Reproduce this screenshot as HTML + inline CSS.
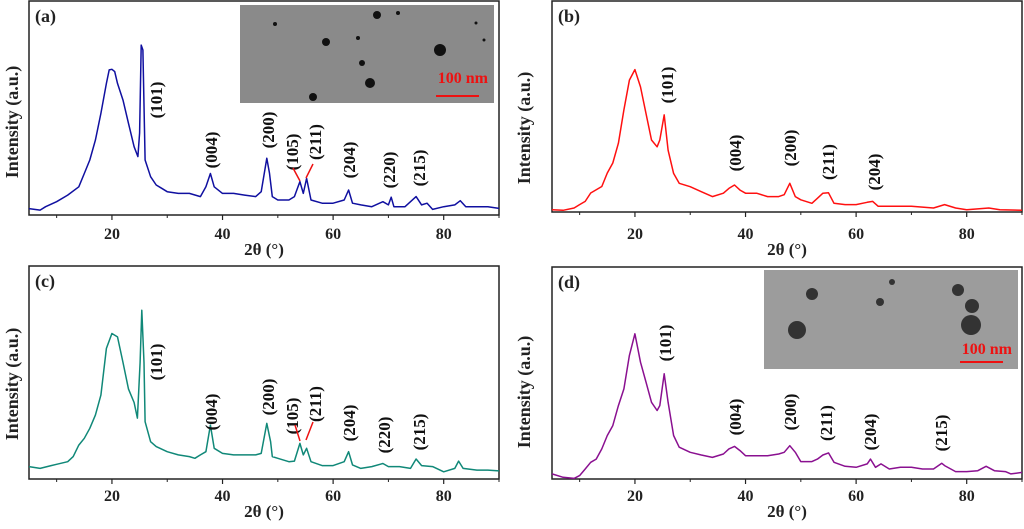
<!DOCTYPE html>
<html><head><meta charset="utf-8"><style>
body{margin:0;background:#fff;width:1024px;height:524px;overflow:hidden}
svg text{font-family:"Liberation Serif",serif;font-weight:bold}
</style></head><body>
<svg id="fig" width="1024" height="524" viewBox="0 0 1024 524" xmlns="http://www.w3.org/2000/svg"></svg>
<script>
const xTicks=[20,40,60,80];
const xMinor=[10,30,50,70,90];
// panel (a)
const aX=[5,7,8,10,12,14,15,16,17,18,19,19.5,20,20.5,21,22,23,24,24.7,25,25.3,25.6,26,27,28,29,30,32,34,36,37,37.8,38.5,40,42,44,46,47,48,48.5,49,50,52,53,54,54.6,55.2,56,58,60,62,62.8,63.5,65,67,69,70,70.5,71,73,75,76,77,78,80,82,83,84,86,88,90];
const aY=[3,2.3,3.9,6.2,9.3,13.2,19.4,25.7,35,47.5,61.5,67.8,68.1,67,61.5,53.7,42.8,31.9,27.3,38.3,79.4,77.1,25.7,17.9,14,12.5,10.9,10.1,10.1,8.6,13.2,19.4,13.2,10.1,10.1,9.3,8.6,10.9,26.5,19.5,8.6,7,7,8.6,15.6,10.1,17.1,7,5.5,5.5,7,11.7,5.5,4.7,3.9,6.2,4.7,8.3,3.9,3.9,8.6,4.7,5.5,2.6,3.9,4.7,6.7,3.9,3.9,3.9,3.1];
// panel (b)
const bX=[5,7,9,10,11,12,14,15,16,17,18,19,20,21,22,23,24,24.5,25.3,26,27,28,30,32,34,36,37,38,39,40,42,44,46,47,48,49,50,52,53,54,55,56,58,60,62,63,64,66,70,74,76,78,80,84,86,90];
const bY=[1.1,0.8,1.9,3.5,5,9,12.1,18.5,23.2,32.6,48.4,62.5,67.5,59.3,46.7,34.1,30.9,34.1,46,29.3,18.3,13.6,12,9.6,7.3,8.9,11.2,12.8,10.4,8.9,8.9,7.3,7.3,8.2,13.6,7.3,5.8,4.1,6.5,8.9,9.1,4.1,3.5,3.5,4.6,5,2.7,2.7,2.7,1.9,3.5,1.9,1.1,1.9,1.1,0.8];
// panel (c)
const cX=[5,7,9,10,12,13,14,15,16,17,18,19,20,21,22,23,24,24.6,25.1,25.4,25.8,26,27,28,30,32,34,35,36,37,37.8,38.5,40,42,44,46,47,48,48.7,49,50,52,53,54,54.6,55.2,56,58,60,62,62.8,63.5,65,67,69,70,72,74,75,76,78,80,82,82.7,83.5,86,88,90];
const cY=[5.8,5,6.3,6.9,8.1,10.5,15.9,19.1,23.8,30,39.4,61.3,68.3,66.7,54.7,42.2,35.9,28.6,54.7,79.2,54.7,26.9,17.5,15.2,12.8,11.3,10.5,9.7,11.3,12.8,25.3,14.4,12,11.3,11.3,11.3,12,26.1,17.5,10.5,9.7,8.1,8.4,16.7,11.3,14.4,8.1,6.3,6.3,8.1,12.8,6.6,5,5.8,7.3,5.8,5.8,5,9.4,6.3,5.8,3.4,5,8.4,5,4.2,4.2,3.8];
// panel (d)
const dX=[5,7,9,10,11,12,13,14,15,16,17,18,19,20,21,22,23,24,24.5,25.3,26,27,28,30,32,34,36,37,38,39,40,42,44,46,47,48,49,50,52,53,54,55,56,58,60,62,62.6,63.5,64.5,66,68,70,72,74,75.5,76,78,80,82,83.5,85,87,88,90];
const dY=[2.4,0.8,0.3,1.6,4.7,7.9,9.4,14.2,20.5,25.2,34.6,42.5,58.3,68.5,55.1,45.7,36.2,32.3,34.6,49.6,36.2,20.5,15,12.6,11.3,10.2,11.8,14.2,15.4,13.4,11.0,11.0,11.0,11.8,12.6,15.7,12.6,8.2,8.2,9.4,11.3,12.3,7.9,6,5.5,7.1,9.4,5.5,7.1,4.7,5.5,5.5,4.7,4.7,7.4,6.3,3.5,3.5,3.9,6,3.9,3.5,2.4,3.1];

const panels=[
 {id:'a',L:29,R:499,T:1,B:215,xs:aX,ys:aY,col:'#1010a0',tl:233,tt:249,yt:122,yx:12,
  labels:[['(101)',156,100],['(004)',211,150],['(200)',268,130],['(105)',292,152],['(211)',315,142],['(204)',349,160],['(220)',389,170],['(215)',419,168]],
  red:[[293,168,300,181],[313,164,306,178]],inset:[240,5,254,98]},
 {id:'b',L:552,R:1022,T:1,B:212,xs:bX,ys:bY,col:'#ff1010',tl:233,tt:249,yt:128,yx:524,
  labels:[['(101)',667,85],['(004)',735,153],['(200)',790,148],['(211)',828,162],['(204)',874,172]],red:[],inset:null},
 {id:'c',L:29,R:499,T:266,B:479,xs:cX,ys:cY,col:'#108878',tl:495,tt:511,yt:384,yx:12,
  labels:[['(101)',156,362],['(004)',211,412],['(200)',268,397],['(105)',292,416],['(211)',315,404],['(204)',349,423],['(220)',384,435],['(215)',419,432]],
  red:[[295,425,300,441],[313,422,306,440]],inset:null},
 {id:'d',L:552,R:1022,T:267,B:479,xs:dX,ys:dY,col:'#8a1090',tl:495,tt:511,yt:392,yx:524,
  labels:[['(101)',665,343],['(004)',735,417],['(200)',790,412],['(211)',826,423],['(204)',870,432],['(215)',941,433]],red:[],inset:[764,270,254,99]}
];
const NS='http://www.w3.org/2000/svg';
const svg=document.getElementById('fig');
function mk(t,a,p){const e=document.createElementNS(NS,t);for(const k in a)e.setAttribute(k,a[k]);(p||svg).appendChild(e);return e;}
panels.forEach(p=>{
  const g=mk('g',{});
  
  
  const sx=v=>p.L+(v-5)/85*(p.R-p.L);
  const sy=v=>p.B-v/100*(p.B-p.T);
  const fr=mk('rect',{x:p.L,y:p.T,width:p.R-p.L,height:p.B-p.T,fill:'none',stroke:'#222','stroke-width':1.5},g);
  
  
  xTicks.forEach(v=>{
    mk('line',{x1:sx(v),x2:sx(v),y1:p.B,y2:p.B+5,stroke:'#222','stroke-width':1.2},g);
    const t=mk('text',{x:sx(v),y:p.tl+6,'text-anchor':'middle','font-size':16,fill:'#222'},g);
    t.textContent=v;
    
    
  });
  xMinor.forEach(v=>mk('line',{x1:sx(v),x2:sx(v),y1:p.B,y2:p.B+3,stroke:'#222','stroke-width':1},g));
  const xt=mk('text',{x:(p.L+p.R)/2,y:p.tt+6,'text-anchor':'middle','font-size':17,fill:'#222'},g);
  xt.textContent='2θ (°)';
  
  
  const yt=mk('text',{x:0,y:0,'text-anchor':'middle','font-size':18,fill:'#222',transform:`translate(${p.yx+6},${p.yt}) rotate(-90)`},g);
  yt.textContent='Intensity (a.u.)';
  
  
  const pl=mk('text',{x:p.L+6,y:p.T+21,'font-size':18,fill:'#222'},g);
  pl.textContent='('+p.id+')';
  
  
  let d='';p.xs.forEach((x,i)=>{d+=(i?'L':'M')+sx(x).toFixed(1)+','+sy(p.ys[i]).toFixed(1);});
  const ln=mk('path',{d:d,fill:'none',stroke:p.col,'stroke-width':1.5,'stroke-linejoin':'round'},g);
  
  
  p.labels.forEach(l=>{
    const t=mk('text',{x:0,y:6,'text-anchor':'middle','font-size':17,fill:'#111',transform:`translate(${l[1]},${l[2]}) rotate(-90)`},g);
    t.textContent=l[0];
    
    
  });
  p.red.forEach(r=>mk('line',{x1:r[0],y1:r[1],x2:r[2],y2:r[3],stroke:'#ee1111','stroke-width':1.5},g));
  if(p.inset){
    const [ix,iy,iw,ih]=p.inset;
    const ig=mk('g',{},g);
    
    
    mk('rect',{x:ix,y:iy,width:iw,height:ih,fill:p.id==='a'?'#8a8a8a':'#9c9c9c'},ig);
    const dots=p.id==='a'?[[137,10,4],[158,8,2],[35,19,2],[86,37,4],[118,33,2],[200,45,6],[122,58,3],[130,78,5],[73,92,4],[236,18,1.5],[244,35,1.5]]:
      [[48,24,6],[116,32,4],[194,20,6],[208,36,7],[33,60,9],[207,55,10],[128,12,3]];
    dots.forEach(c=>mk('circle',{cx:ix+c[0],cy:iy+c[1],r:c[2],fill:p.id==='a'?'#111':'#333'},ig));
    const sb=mk('text',{x:ix+iw-6,y:iy+ih-(p.id==='a'?20:15),'text-anchor':'end','font-size':16,fill:'#ee1111'},ig);
    sb.textContent='100 nm';
    mk('line',{x1:ix+iw-58,x2:ix+iw-15,y1:iy+ih-7,y2:iy+ih-7,stroke:'#ee1111','stroke-width':2},ig);
  }
});
</script>
</body></html>
